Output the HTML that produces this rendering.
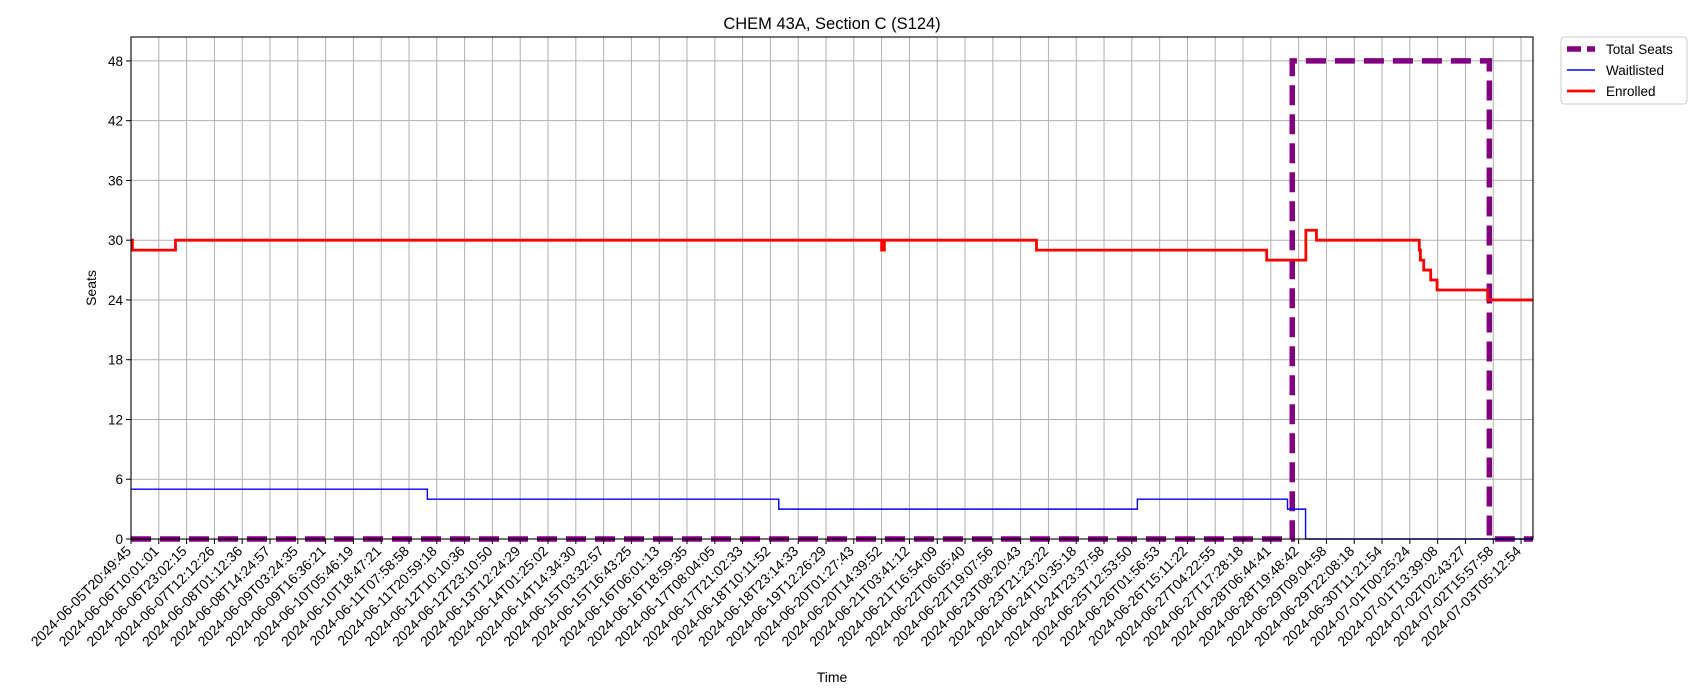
<!DOCTYPE html>
<html><head><meta charset="utf-8"><style>
body{margin:0;background:#fff;}
svg{display:block;font-family:"Liberation Sans","DejaVu Sans",sans-serif;}
</style></head><body>
<svg id="chart" width="1700" height="700" viewBox="0 0 1700 700">
<rect width="1700" height="700" fill="#fff"/>
<text x="832" y="29" font-size="16.5" text-anchor="middle">CHEM 43A, Section C (S124)</text>
<g id="grid"></g>
<g id="series"></g>
<rect x="131" y="37" width="1402" height="502" fill="none" stroke="#000" stroke-width="1.1"/>
<g id="axes"></g>
<text x="832" y="682" font-size="14" text-anchor="middle">Time</text>
<text x="96" y="288" font-size="14" text-anchor="middle" transform="rotate(-90 96 288)">Seats</text>
<g>
<rect x="1561" y="37" width="126" height="67" rx="3" fill="#fff" stroke="#ccc"/>
<g><line x1="1567" y1="49" x2="1595" y2="49" stroke="#800080" stroke-width="5.5" stroke-dasharray="14,6"/><text x="1606" y="54" font-size="13.5">Total Seats</text></g>
<g><line x1="1567" y1="70" x2="1595" y2="70" stroke="#0000ff" stroke-width="1.4"/><text x="1606" y="75" font-size="13.5">Waitlisted</text></g>
<g><line x1="1567" y1="91" x2="1595" y2="91" stroke="#ff0000" stroke-width="2.8"/><text x="1606" y="96" font-size="13.5">Enrolled</text></g>
</g>
</svg>
<script>
const xTickLabels = ["2024-06-05T20:49:45","2024-06-06T10:01:01","2024-06-06T23:02:15","2024-06-07T12:12:26","2024-06-08T01:12:36","2024-06-08T14:24:57","2024-06-09T03:24:35","2024-06-09T16:36:21","2024-06-10T05:46:19","2024-06-10T18:47:21","2024-06-11T07:58:58","2024-06-11T20:59:18","2024-06-12T10:10:36","2024-06-12T23:10:50","2024-06-13T12:24:29","2024-06-14T01:25:02","2024-06-14T14:34:30","2024-06-15T03:32:57","2024-06-15T16:43:25","2024-06-16T06:01:13","2024-06-16T18:59:35","2024-06-17T08:04:05","2024-06-17T21:02:33","2024-06-18T10:11:52","2024-06-18T23:14:33","2024-06-19T12:26:29","2024-06-20T01:27:43","2024-06-20T14:39:52","2024-06-21T03:41:12","2024-06-21T16:54:09","2024-06-22T06:05:40","2024-06-22T19:07:56","2024-06-23T08:20:43","2024-06-23T21:23:22","2024-06-24T10:35:18","2024-06-24T23:37:58","2024-06-25T12:53:50","2024-06-26T01:56:53","2024-06-26T15:11:22","2024-06-27T04:22:55","2024-06-27T17:28:18","2024-06-28T06:44:41","2024-06-28T19:48:42","2024-06-29T09:04:58","2024-06-29T22:08:18","2024-06-30T11:21:54","2024-07-01T00:25:24","2024-07-01T13:39:08","2024-07-02T02:43:27","2024-07-02T15:57:58","2024-07-03T05:12:54"];
const yTicks = [0,6,12,18,24,30,36,42,48];
// step series: change positions (in tick-index units) and values
const enrolledX = [0,0.05,1.6,27.0,27.1,32.57,40.85,42.26,42.64,46.34,46.38,46.5,46.75,46.98,48.8,50.43];
const enrolledY = [30,29,30,29,30,29,28,31,30,29,28,27,26,25,24,24];
const waitX = [0,10.66,23.3,36.2,41.6,42.25,50.43];
const waitY = [5,4,3,4,3,0,0];
const totalX = [0,41.77,48.86,50.43];
const totalY = [0,48,0,0];

const L=131,R=1533,T=37,B=539,XMAX=50.43,YMAX=50.4;
const xs=v=>L+v/XMAX*(R-L);
const ys=v=>B-v/YMAX*(B-T);
const NS="http://www.w3.org/2000/svg";
function mk(tag,attrs,parent){const e=document.createElementNS(NS,tag);for(const k in attrs)e.setAttribute(k,attrs[k]);parent.appendChild(e);return e;}
const grid=document.getElementById('grid'),axes=document.getElementById('axes'),series=document.getElementById('series');
xTickLabels.forEach((lab,i)=>{
  const x=xs(i);
  const g=mk('line',{x1:x,x2:x,y1:T,y2:B,stroke:'#b0b0b0','stroke-width':1},grid);
  
  
  const t=mk('line',{x1:x,x2:x,y1:B,y2:B+5,stroke:'#000','stroke-width':1},axes);
  
  
  const tx=mk('text',{x:x+1,y:B+13,'font-size':14,'text-anchor':'end',transform:`rotate(-45 ${x+1} ${B+13})`},axes);
  tx.textContent=lab;
  
  
});
yTicks.forEach(v=>{
  const y=ys(v);
  const g=mk('line',{x1:L,x2:R,y1:y,y2:y,stroke:'#b0b0b0','stroke-width':1},grid);
  
  
  const t=mk('line',{x1:L-5,x2:L,y1:y,y2:y,stroke:'#000','stroke-width':1},axes);
  
  
  const tx=mk('text',{x:L-8,y:y+5,'font-size':13.5,'text-anchor':'end'},axes);
  tx.textContent=v;
  
  
});
function stepPath(X,Y){let d=`M${xs(X[0])},${ys(Y[0])}`;for(let i=1;i<X.length;i++){d+=` H${xs(X[i])} V${ys(Y[i])}`;}return d;}
const pt=mk('path',{d:stepPath(totalX,totalY),fill:'none',stroke:'#800080','stroke-width':5.5,'stroke-dasharray':'20,9'},series);


const pw=mk('path',{d:stepPath(waitX,waitY),fill:'none',stroke:'#0000ff','stroke-width':1.4},series);


const pe=mk('path',{d:stepPath(enrolledX,enrolledY),fill:'none',stroke:'#ff0000','stroke-width':2.8},series);


</script>
</body></html>
